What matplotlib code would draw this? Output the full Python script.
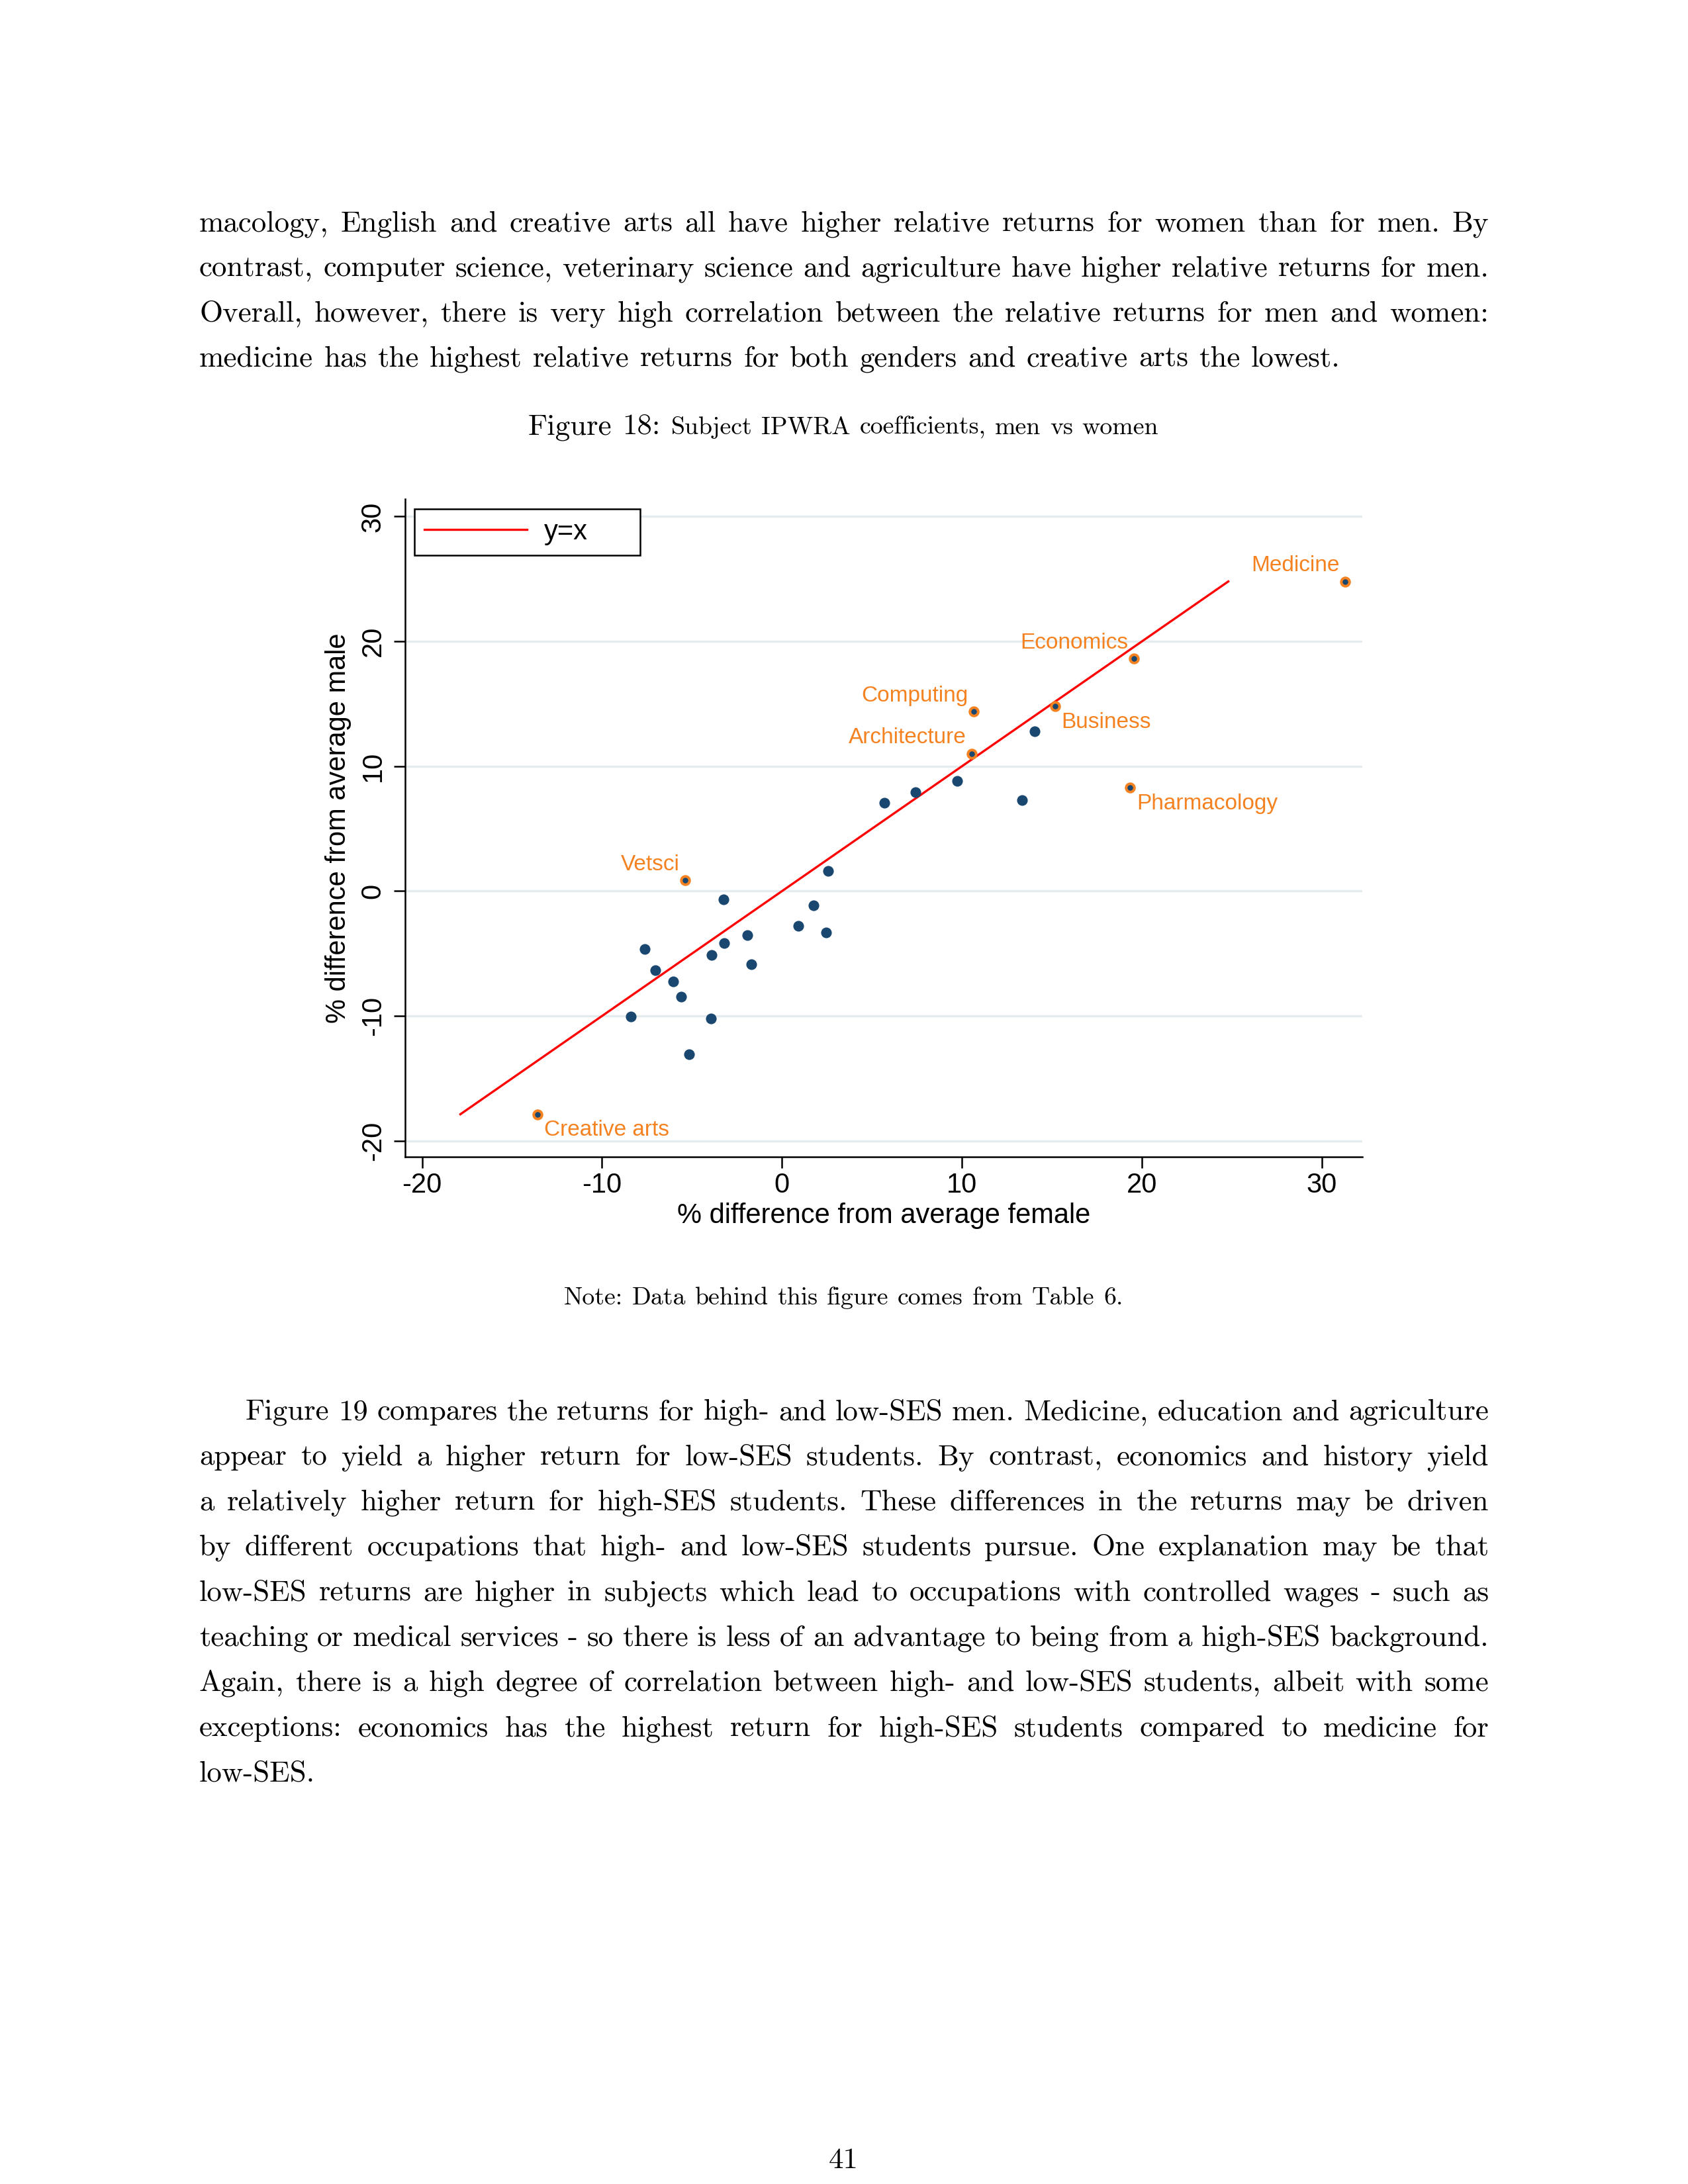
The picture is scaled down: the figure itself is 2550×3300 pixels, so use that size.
"""
Page 41: Figure 18, subject IPWRA coefficients, men vs women, plus surrounding text
"""
import matplotlib
matplotlib.use('Agg')
import matplotlib.pyplot as plt

plt.rcParams['axes.unicode_minus'] = False

# ---- data ----
# labelled subjects
label_names = ['Medicine', 'Economics', 'Computing', 'Business', 'Architecture',
               'Pharmacology', 'Vetsci', 'Creative arts']
label_female = [31.29, 19.54, 10.65, 15.17, 10.53, 19.35, -5.39, -13.57]
label_male = [24.80, 18.61, 14.38, 14.82, 11.02, 8.30, 0.87, -17.87]
label_clock = [11, 11, 11, 4, 11, 4, 11, 4]   # stata-style label position

# other subjects (unlabelled)
other_female = [5.68, 7.41, 9.72, 13.33, 14.03, 2.58, -3.25, 1.76, 0.89, 2.44, -1.92,
                -3.23, -3.91, -7.62, -1.69, -7.05, -6.05, -5.60, -8.41, -3.94, -5.16]
other_male = [7.09, 7.92, 8.84, 7.30, 12.81, 1.63, -0.64, -1.12, -2.76, -3.32, -3.54,
              -4.16, -5.11, -4.66, -5.86, -6.36, -7.23, -8.44, -10.07, -10.21, -13.05]

ticks = [-20, -10, 0, 10, 20, 30]

# ---- page text ----
par1 = [
    "macology, English and creative arts all have higher relative returns for women than for men. By",
    "contrast, computer science, veterinary science and agriculture have higher relative returns for men.",
    "Overall, however, there is very high correlation between the relative returns for men and women:",
    "medicine has the highest relative returns for both genders and creative arts the lowest.",
]
par2 = [
    "Figure 19 compares the returns for high- and low-SES men. Medicine, education and agriculture",
    "appear to yield a higher return for low-SES students. By contrast, economics and history yield",
    "a relatively higher return for high-SES students. These differences in the returns may be driven",
    "by different occupations that high- and low-SES students pursue. One explanation may be that",
    "low-SES returns are higher in subjects which lead to occupations with controlled wages - such as",
    "teaching or medical services - so there is less of an advantage to being from a high-SES background.",
    "Again, there is a high degree of correlation between high- and low-SES students, albeit with some",
    "exceptions: economics has the highest return for high-SES students compared to medicine for",
    "low-SES.",
]
caption_lead = "Figure 18:"
caption_text = "Subject IPWRA coefficients, men vs women"
note_text = "Note: Data behind this figure comes from Table 6."
page_no = "41"

# colours (stata s2color-ish)
NAVY = '#1a476f'
ORANGE = '#f58220'
GRID = '#e4ecef'

W, H, DPI = 2550, 3300, 300
SERIF = ['cmr10', 'DejaVu Serif']
SANS = ['Liberation Sans', 'DejaVu Sans']
BODY = 10.8
SMALL = 9.1
SPACE_EM = 0.36


def place_words(fig, renderer, words, sizes, y_px, x_left=None, x_right=None,
                center=None, justify=False):
    """放置一行文字，逐词排版（cmr10 没有空格字形）"""
    arts = [fig.text(0, 1 - y_px / H, w, fontsize=s, family=SERIF,
                     va='baseline', ha='left', color='black')
            for w, s in zip(words, sizes)]
    widths = [a.get_window_extent(renderer).width for a in arts]
    if justify and len(words) > 1:
        gap = [(x_right - x_left - sum(widths)) / (len(words) - 1)] * (len(words) - 1)
    else:
        gap = [SPACE_EM * max(sizes[i], sizes[i + 1]) * DPI / 72 for i in range(len(words) - 1)]
    total = sum(widths) + sum(gap)
    x = x_left if center is None else center - total / 2
    for i, (a, w) in enumerate(zip(arts, widths)):
        a.set_x(x / W)
        if i < len(gap):
            x += w + gap[i]


def paragraph(fig, renderer, lines, y0, step, indent=0):
    for i, line in enumerate(lines):
        words = line.split()
        left = 301 + (indent if i == 0 else 0)
        last = i == len(lines) - 1
        place_words(fig, renderer, words, [BODY] * len(words), y0 + i * step,
                    x_left=left, x_right=2249, justify=not last)


def plot_chart(fig):
    ax = fig.add_axes([0.2399, 0.4702, 0.5672, 0.3013])

    all_male = label_male + other_male
    diag = [min(all_male), max(all_male)]
    ax.plot(diag, diag, color='red', lw=0.8, label='y=x', zorder=2)

    ax.scatter(other_female, other_male, s=15, color=NAVY, lw=0, zorder=3)
    ax.scatter(label_female, label_male, s=9, facecolor=NAVY, edgecolor=ORANGE,
               lw=0.95, zorder=4)

    for name, fx, my, pos in zip(label_names, label_female, label_male, label_clock):
        if pos == 11:
            off, ha = (-2.0, 5.7), 'right'
        else:
            off, ha = (2.3, -5.8), 'left'
        ax.annotate(name, (fx, my), xytext=off, textcoords='offset points',
                    ha=ha, va='center', fontsize=8, color=ORANGE, family=SANS)

    ax.set_xlim(-20.95, 32.25)
    ax.set_ylim(-21.3, 31.4)
    ax.set_xticks(ticks)
    ax.set_yticks(ticks)
    ax.yaxis.grid(True, color=GRID, lw=0.8, zorder=0)
    ax.xaxis.grid(False)
    ax.set_axisbelow(True)

    for side in ['top', 'right']:
        ax.spines[side].set_visible(False)
    for side in ['left', 'bottom']:
        ax.spines[side].set_linewidth(0.6)

    ax.tick_params(axis='both', direction='out', length=4, width=0.6, labelsize=10)
    ax.tick_params(axis='x', pad=1.5)
    ax.tick_params(axis='y', pad=2.7, labelrotation=90)
    for t in ax.get_yticklabels():
        t.set_va('center')
    for t in ax.get_xticklabels() + ax.get_yticklabels():
        t.set_family(SANS)

    ax.set_xlabel('% difference from average female', fontsize=10, family=SANS, va='center')
    ax.set_ylabel('% difference from average male', fontsize=10, family=SANS, va='center')
    ax.xaxis.set_label_coords(0.5, -0.0889)
    ax.yaxis.set_label_coords(-0.0696, 0.5)

    leg = ax.legend(loc='upper left', bbox_to_anchor=(0.0099, 0.9085, 0.2356, 0.0761),
                    mode='expand', frameon=True, fancybox=False, edgecolor='black',
                    framealpha=1, borderpad=0.35, handlelength=3.74, handletextpad=0.62,
                    borderaxespad=0, prop={'family': SANS, 'size': 10})
    leg.get_frame().set_linewidth(0.6)


def main():
    fig = plt.figure(figsize=(W / DPI, H / DPI), dpi=DPI)
    renderer = fig.canvas.get_renderer()

    # 正文第一段
    paragraph(fig, renderer, par1, 349.3, 68.0)

    # 图标题
    lead = caption_lead.split()
    rest = caption_text.split()
    place_words(fig, renderer, lead + rest, [BODY] * len(lead) + [SMALL] * len(rest),
                656, center=1274)

    plot_chart(fig)

    # 注释
    nw = note_text.split()
    place_words(fig, renderer, nw, [SMALL] * len(nw), 1970.7, center=1274)

    # 正文第二段
    paragraph(fig, renderer, par2, 2145, 68.3, indent=70)

    # 页码
    place_words(fig, renderer, [page_no], [BODY], 3276, center=1274)

    fig.savefig('out.png', dpi=DPI)
    plt.close(fig)


if __name__ == '__main__':
    main()
